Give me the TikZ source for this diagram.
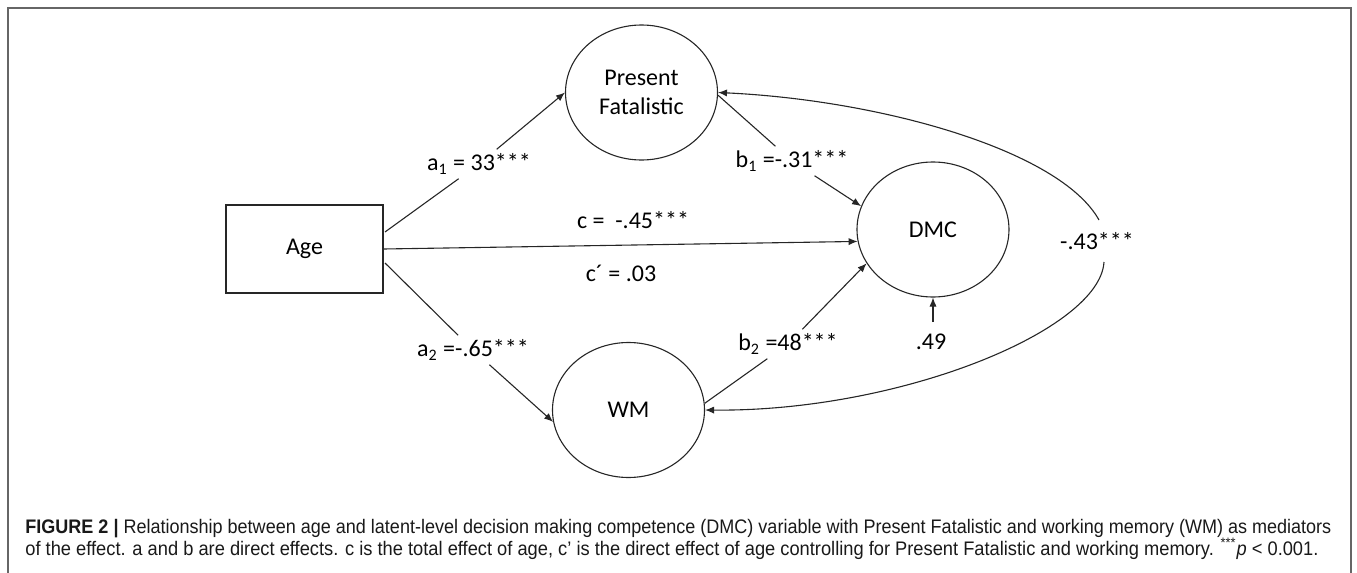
\documentclass[tikz,border=0pt]{standalone}
\usepackage{fontspec}
\usetikzlibrary{shapes.geometric,arrows.meta}
\newfontfamily\carl{Carlito}
\newfontfamily\capf{Liberation Sans}
\begin{document}
\begin{tikzpicture}[x=0.5pt,y=-0.5pt,
  ln/.style={draw=black!85,line width=0.55pt},
  arr/.style={ln,-{Latex[length=4.5pt,width=3.6pt]}},
  latent/.style={ellipse,draw=black!85,line width=0.55pt,inner sep=0pt,
    minimum width=76pt,minimum height=67.5pt,font=\carl\fontsize{12}{14.5}\selectfont,align=center},
  obs/.style={rectangle,draw=black!85,line width=0.6pt,inner sep=0pt,
    minimum width=78.5pt,minimum height=44pt,font=\carl\fontsize{12}{14.5}\selectfont},
  lab/.style={inner sep=2pt,font=\carl\fontsize{12}{14.5}\selectfont},
  captxt/.style={inner sep=0pt,anchor=base west,font=\capf\fontsize{9.8}{12}\selectfont,text=black!90}]
\useasboundingbox (0,0) rectangle (1357,573);
% frame
\draw[draw=black!60,line width=0.8pt] (8,573) -- (8,8) -- (1351,8) -- (1351,573);

% nodes
\node[obs] (age) at (304.5,249) {Age};
\node[latent] (pf) at (641.5,92.5) {Present\\Fatalistic};
\node[latent] (dmc) at (933,229.5) {DMC};
\node[latent] (wm) at (628.5,410) {WM};

% labels
\node[lab] (a1) at (479,164) {a\textsubscript{1} = 33***};
\node[lab] (cl) at (633,220) {c =\ \ -.45***};
\node[lab] (cpl) at (621,273) {c´ = .03};
\node[lab] (a2) at (473,350) {a\textsubscript{2} =-.65***};
\node[lab] (b1) at (792,161) {b\textsubscript{1} =-.31***};
\node[lab] (b2) at (788,344) {b\textsubscript{2} =48***};
\node[lab] (r49) at (931,342) {.49};
\node[lab] (n43) at (1097,241) {-.43***};

\coordinate (a1s) at (385,232);
\coordinate (a2s) at (385,263);
\coordinate (r49s) at (933,322);
\coordinate (c43a) at (1099,220);
\coordinate (c43b) at (1104,262);

% connectors
\draw[ln] (a1s) -- (a1);
\draw[arr] (a1) -- (pf.west);
\draw[arr] (age.east) -- (dmc.189);
\draw[ln] (a2s) -- (a2);
\draw[arr] (a2) -- (wm.189);
\draw[ln] (pf.358) -- (b1);
\draw[arr] (b1) -- (dmc.162);
\draw[ln] (wm.5) -- (b2);
\draw[arr] (b2) -- (dmc.207);
\draw[arr] (r49s) -- (dmc.south);
\draw[arr] (c43a) .. controls (1060,150) and (880,100) .. (pf.east);
\draw[arr] (c43b) .. controls (1100,330) and (900,412) .. (wm.east);

% caption
\node[captxt] (cap1) at (25,533.5) {\resizebox{653pt}{\height}{\textbf{FIGURE 2 |} Relationship between age and latent-level decision making competence (DMC) variable with Present Fatalistic and working memory (WM) as mediators}};
\node[captxt] (cap2) at (25,555) {\resizebox{646.5pt}{\height}{of the effect. a and b are direct effects. c is the total effect of age, c’ is the direct effect of age controlling for Present Fatalistic and working memory. \textsuperscript{***}\textit{p} {<} 0.001.}};
\end{tikzpicture}
\end{document}
